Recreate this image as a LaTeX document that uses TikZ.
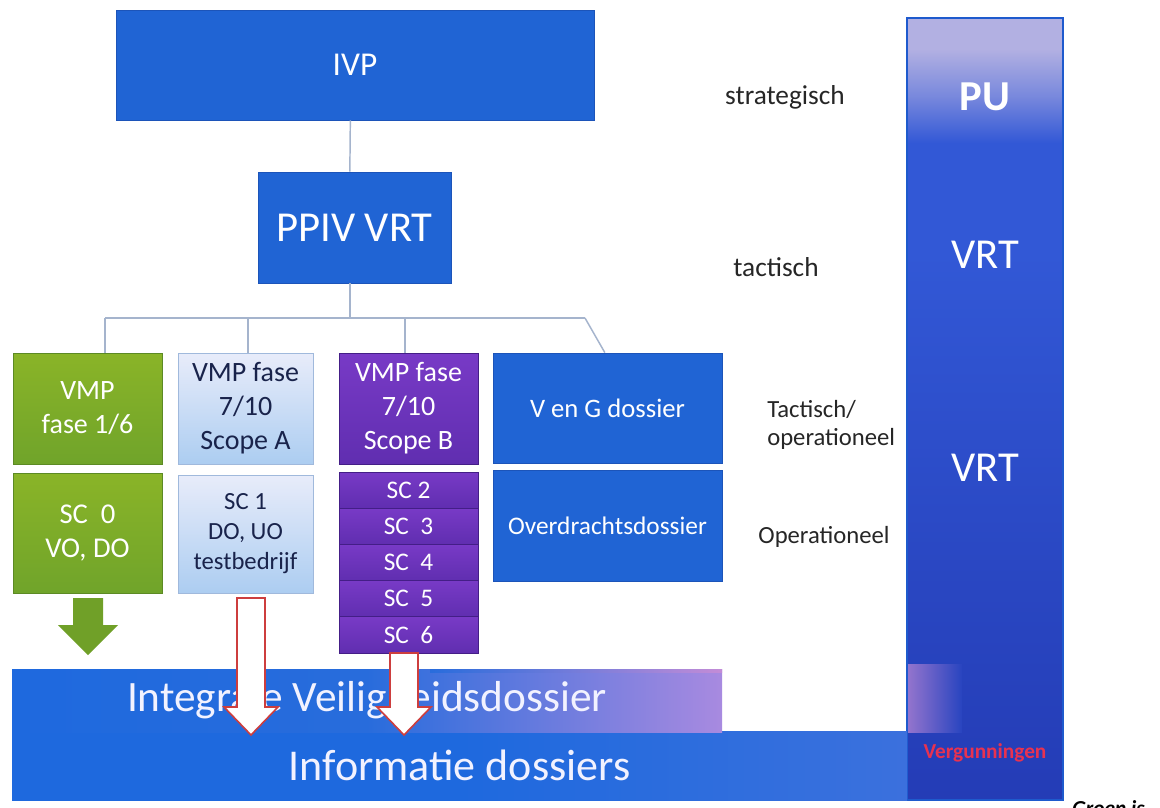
\documentclass[tikz,border=0pt]{standalone}
\usepackage{fontspec}
\setmainfont{Carlito}
\usetikzlibrary{calc}

\definecolor{ivpblue}{RGB}{32,100,212}
\definecolor{boxedge}{RGB}{28,84,185}
\definecolor{linkgray}{RGB}{165,180,205}
\definecolor{greenA}{RGB}{138,180,40}
\definecolor{greenB}{RGB}{112,164,42}
\definecolor{greenEdge}{RGB}{92,138,36}
\definecolor{paleTop}{RGB}{232,236,250}
\definecolor{paleBot}{RGB}{172,205,241}
\definecolor{paleEdge}{RGB}{160,185,220}
\definecolor{paleText}{RGB}{25,35,75}
\definecolor{purpleA}{RGB}{120,58,198}
\definecolor{purpleB}{RGB}{96,46,176}
\definecolor{purpleEdge}{RGB}{68,30,135}
\definecolor{bandblue}{RGB}{30,105,222}
\definecolor{bandmid}{RGB}{40,108,220}
\definecolor{bandpink}{RGB}{168,138,224}
\definecolor{pinkhaze}{RGB}{195,140,215}
\definecolor{colTop}{RGB}{178,176,226}
\definecolor{colMid}{RGB}{50,88,214}
\definecolor{colBot}{RGB}{36,60,182}
\definecolor{colEdge}{RGB}{30,90,205}
\definecolor{arrowred}{RGB}{205,62,62}
\definecolor{greenarrow}{RGB}{112,160,40}
\definecolor{permitred}{RGB}{232,50,80}
\definecolor{labelgray}{RGB}{38,38,38}

% permit column: darker foot, even blue body, pale lavender head
% (the part from 25bp to 75bp is what covers the filled path)
\pgfdeclareverticalshading{colshade}{100bp}{%
  color(0bp)=(colBot); color(25bp)=(colBot); color(40bp)=(colBot!60!colMid);
  color(60bp)=(colMid); color(67bp)=(colMid); color(70bp)=(colTop!55!colMid);
  color(73bp)=(colTop); color(100bp)=(colTop)}

\tikzset{
  wh/.style 2 args={minimum width=#1*0.75pt, minimum height=#2*0.75pt},
  base/.style={draw, line width=0.6pt, inner sep=0pt, align=center, text=white},
  bluebox/.style={base, fill=ivpblue, draw=boxedge},
  greenbox/.style={base, top color=greenA, bottom color=greenB, draw=greenEdge},
  palebox/.style={base, top color=paleTop, bottom color=paleBot, draw=paleEdge, text=paleText},
  purplebox/.style={base, top color=purpleA, bottom color=purpleB, draw=purpleEdge},
  link/.style={draw=linkgray, line width=1.1pt},
  level/.style={text=labelgray, inner sep=0pt, font=\fontsize{20.5}{24}\selectfont},
  levelsm/.style={text=labelgray, inner sep=0pt, align=left, font=\fontsize{18.5}{21}\selectfont},
  hollowarrow/.style={fill=white, draw=arrowred, line width=1.2pt, line join=miter},
  f21/.style={font=\fontsize{21}{25.5}\selectfont},
  f19/.style={font=\fontsize{19}{23}\selectfont},
}

\begin{document}
\begin{tikzpicture}[x=0.75pt, y=-0.75pt]
\useasboundingbox (0,0) rectangle (1160,807);
\fill[white] (0,0) rectangle (1160,807);

\begin{scope}
\clip (0,0) rectangle (1160,807);

% permit column on the right
\node[draw=colEdge, line width=0.8pt, shading=colshade, wh={156}{782}, inner sep=0pt] (col) at (985,409) {};
\shade[left color=pinkhaze!70!colBot, right color=colBot!70!colMid] (908,664) rectangle (962,732);

% top of the tree
\node[bluebox, wh={478}{110}, font=\fontsize{25}{29}\selectfont] (ivp) at (355,65) {\raisebox{-3pt}{IVP}};
\node[bluebox, wh={193}{111}, font=\fontsize{32}{38}\selectfont] (ppiv) at (354.5,227.5) {PPIV VRT};

% phase columns
\node[greenbox, wh={149}{111}, f21] (vmpa) at (87.5,408.5) {VMP\\fase 1/6};
\node[greenbox, wh={149}{120}, font=\fontsize{21.5}{25}\selectfont] (sc0) at (87.5,533) {SC\ \ 0\\VO, DO};

\node[palebox, wh={135}{111}, f21] (vmpb) at (245.5,408.5) {VMP fase\\7/10\\Scope A};
\node[palebox, wh={135}{118}, font=\fontsize{18.5}{22.5}\selectfont] (sc1) at (245.5,534) {SC 1\\DO, UO\\testbedrijf};

\node[purplebox, wh={139}{111}, f21] (vmpc) at (408.5,408.5) {VMP fase\\7/10\\Scope B};
\node[purplebox, wh={139}{36.2}, f19] (sc2) at (408.5,490.1) {SC 2};
\node[purplebox, wh={139}{36.2}, f19] (sc3) at (408.5,526.3) {SC\ \ 3};
\node[purplebox, wh={139}{36.2}, f19] (sc4) at (408.5,562.5) {SC\ \ 4};
\node[purplebox, wh={139}{36.2}, f19] (sc5) at (408.5,598.7) {SC\ \ 5};
\node[purplebox, wh={139}{36.2}, f19] (sc6) at (408.5,634.9) {SC\ \ 6};

\node[bluebox, wh={229}{110}, font=\fontsize{20}{24}\selectfont] (veng) at (607.5,408) {V en G dossier};
\node[bluebox, wh={229}{111}, font=\fontsize{19}{23}\selectfont] (overdr) at (607.5,525.5) {Overdrachtsdossier};

% tree connectors
\coordinate (b1) at (105,318);
\coordinate (b2) at (248,318);
\coordinate (b3) at (405,318);
\coordinate (b4) at (585,318);
\draw[link] ([xshift=-3.5pt]ivp.south) -- ([xshift=-3.5pt]ppiv.north);
\draw[link] ([xshift=-3.5pt]ppiv.south) -- ([xshift=-3.5pt]ppiv.south |- b1);
\draw[link] (b1) -- (b4);
\draw[link] (b1) -- (b1 |- vmpa.north);
\draw[link] (b2) -- (b2 |- vmpb.north);
\draw[link] (b3) -- (b3 |- vmpc.north);
\draw[link] (b4) -- ([xshift=-2pt]veng.north);

% dossier bands
\node[inner sep=0pt, wh={895}{69}, left color=bandblue, right color=bandmid!85!bandpink, middle color=bandblue,
      text=white!95!blue, font=\fontsize{33}{38}\selectfont] (info) at (459.5,765.5) {\raisebox{-3pt}{Informatie dossiers}};
\node[inner sep=0pt, wh={710}{63}, left color=bandblue, right color=bandpink, middle color=bandmid,
      text=white!95!blue, font=\fontsize{32.5}{38}\selectfont] (ivd) at (367,700.5) {Integrale Veiligheidsdossier};
\shade[left color=bandmid, right color=pinkhaze] (430,669) rectangle (722,672);

% level labels
\node[level] (strat) at (785,97) {strategisch};
\node[level] (tact) at (776,267) {tactisch};
\node[levelsm, anchor=west] (tactop) at (767,425) {Tactisch/\\operationeel};
\node[levelsm] (oper) at (824,537) {Operationeel};

% column labels
\node[text=white, font=\fontsize{32}{36}\bfseries] (pu) at (985,97) {PU};
\node[text=white, font=\fontsize{32}{36}\selectfont] (vrt1) at (985,255) {VRT};
\node[text=white, font=\fontsize{32}{36}\selectfont] (vrt2) at (985,468) {VRT};
\node[text=permitred, font=\fontsize{16}{18}\bfseries] (verg) at (985,753) {Vergunningen};

% flow arrows
\fill[greenarrow] (73,598) -- (103,598) -- (103,625) -- (118,625) -- (88,655) -- (58,625) -- (73,625) -- cycle;
\filldraw[hollowarrow] (237,598) -- (265,598) -- (265,707) -- (278,707) -- (251,735) -- (224,707) -- (237,707) -- cycle;
\filldraw[hollowarrow] (390,653) -- (418,653) -- (418,707) -- (431,707) -- (404,735) -- (377,707) -- (390,707) -- cycle;

% footnote cut by the page edge
\node[anchor=base west, inner sep=0pt, font=\fontsize{16}{18}\bfseries\itshape] (groen) at (1072,815) {Groen is};
\end{scope}
\end{tikzpicture}
\end{document}
